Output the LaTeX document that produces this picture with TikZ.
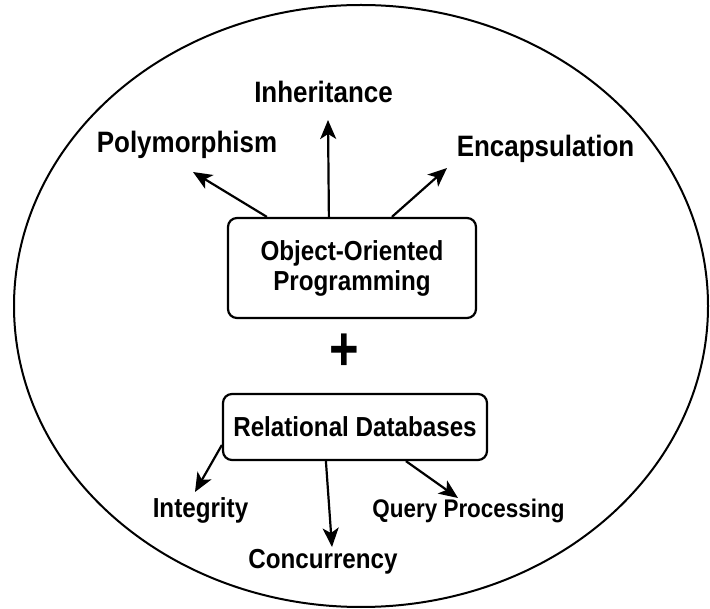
\documentclass[tikz,border=0pt]{standalone}
\usepackage{fontspec}
\setmainfont{Liberation Sans}[FakeStretch=0.88]
\usetikzlibrary{arrows.meta}
\tikzset{
  lbl/.style={anchor=base, inner sep=0pt, font=\fontsize{27.5}{29}\selectfont\bfseries},
  biglbl/.style={lbl, font=\fontsize{29.5}{31}\selectfont\bfseries},
  concept/.style={draw, line width=2.2pt, rounded corners=9pt, align=center, inner sep=0pt,
    font=\fontsize{27.5}{30}\selectfont\bfseries},
  arr/.style={line width=2.2pt, -{Stealth[length=19pt,width=16pt,inset=5pt]}},
  outline/.style={line width=2pt}
}
\begin{document}
\begin{tikzpicture}[x=1pt,y=-1pt]
\useasboundingbox (0,0) rectangle (710,609);
\draw[outline] (361,306) ellipse [x radius=347pt, y radius=301pt];

\node[concept, minimum width=248pt, minimum height=100pt] (oop) at (352,268) {Object-Oriented\\Programming};
\node[concept, minimum width=264pt, minimum height=66pt] (rdb) at (355,427) {Relational Databases};
\node[inner sep=0pt, font=\fontsize{48}{48}\selectfont\bfseries] (plus) at (344,352) {\scalebox{1.2}[1.3]{+}};

\node[biglbl] (inh) at (323.5,103) {Inheritance};
\node[biglbl] (poly) at (187,153) {Polymorphism};
\node[biglbl] (enc) at (545.5,157) {Encapsulation};
\node[lbl] (integ) at (200.5,518) {Integrity};
\node[lbl, font=\fontsize{25.5}{27}\selectfont\bfseries] (query) at (468.5,518) {Query Processing};
\node[lbl] (conc) at (323,568) {Concurrency};

\coordinate (tpoly) at (193,172);
\coordinate (tinh) at (328,120);
\coordinate (tenc) at (447,168);
\coordinate (tinteg) at (195,492);
\coordinate (tconc) at (332,547);
\coordinate (tquery) at (458,498);

\draw[arr] ([xshift=40pt]oop.north west) -- (tpoly);
\draw[arr] ([xshift=102pt]oop.north west) -- (tinh);
\draw[arr] ([xshift=165pt]oop.north west) -- (tenc);
\draw[arr] ([yshift=-18pt]rdb.west) -- (tinteg);
\draw[arr] ([xshift=104pt]rdb.south west) -- (tconc);
\draw[arr] ([xshift=184pt]rdb.south west) -- (tquery);
\end{tikzpicture}
\end{document}
